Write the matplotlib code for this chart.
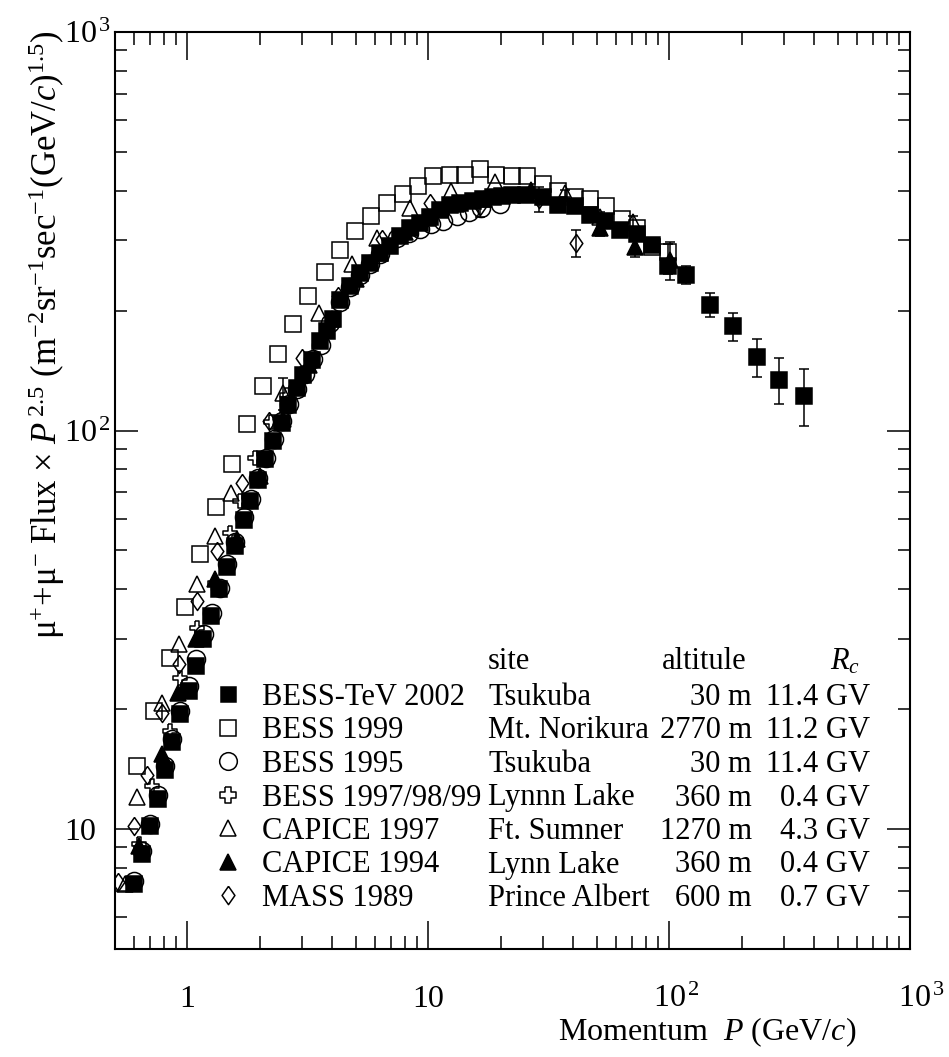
import numpy as np
import matplotlib
matplotlib.use("Agg")
import matplotlib.pyplot as plt
from matplotlib.path import Path
from matplotlib.ticker import LogLocator, NullFormatter
from matplotlib.transforms import ScaledTranslation

plt.rcParams['font.family'] = ['Liberation Serif', 'DejaVu Serif']
plt.rcParams['mathtext.fontset'] = 'custom'
plt.rcParams['mathtext.rm'] = 'Liberation Serif'
plt.rcParams['mathtext.it'] = 'Liberation Serif:italic'
plt.rcParams['mathtext.bf'] = 'Liberation Serif:bold'

# ---------------- data ----------------
# BESS-TeV 2002 (filled squares)
tev_p = [0.597, 0.646, 0.696, 0.751, 0.808, 0.864, 0.933, 1.01, 1.087, 1.165,
         1.254, 1.357, 1.457, 1.58, 1.71, 1.82, 1.97, 2.10, 2.27, 2.46,
         2.62, 2.84, 3.03, 3.28, 3.55, 3.78, 4.03, 4.30, 4.73, 5.21,
         5.73, 6.30, 6.93, 7.63, 8.4, 9.24, 10.16, 11.2, 12.3, 13.6,
         15.3, 16.9, 18.6, 20.3, 22.2, 25.5, 30.0, 34.6, 40.6, 46.9,
         54.1, 62.4, 73.2, 84.5, 99.1, 118, 147.5, 184.4, 230.5, 286, 362]
tev_f = [7.28, 8.66, 10.2, 11.9, 14.1, 16.5, 19.4, 22.2, 25.6, 29.9,
         34.3, 40.0, 45.4, 51.3, 59.8, 66.5, 75.3, 84.6, 94.0, 104.5,
         116, 128, 138, 150.6, 167.4, 178, 190, 213, 230, 248,
         263, 279, 290, 307, 322, 331, 344, 358, 368, 372,
         377, 381, 385, 387, 389, 389, 386, 368, 365, 348,
         335, 319, 311, 292, 258, 246, 207, 182.5, 153, 134.2, 122.4]
tev_err = [0, 0, 0, 0, 0, 0, 0, 0, 0, 0,
           0, 0, 0, 0, 0, 0, 0, 0, 0, 0,
           0, 0, 0, 0, 0, 0, 0, 0, 0, 0,
           0, 0, 0, 0, 0, 0, 0, 0, 0, 0,
           0, 0, 0, 0, 0, 0, 0, 0, 0, 0,
           5, 6, 7, 9, 11, 13, 14, 15, 16.5, 17.5, 20]

# BESS 1999 (open squares)
b99_p = [0.62, 0.723, 0.842, 0.975, 1.129, 1.31, 1.53, 1.764, 2.05, 2.37,
         2.75, 3.18, 3.73, 4.3, 4.96, 5.78, 6.72, 7.83, 9.09, 10.5,
         12.3, 14.2, 16.4, 19.1, 22.2, 25.8, 30.0, 34.6, 40.6, 46.9,
         54.5, 63.5, 73.2, 84.5, 99]
b99_f = [14.4, 19.8, 26.9, 36.1, 48.9, 64.2, 82.2, 104, 129, 155.6,
         185.4, 217, 250.6, 284, 316, 346, 372, 393, 411, 434,
         438, 438, 453, 438, 436, 434, 416, 398, 386, 380,
         366, 339, 322, 289, 281]
b99_err = [0, 0, 0, 0, 0, 0, 0, 0, 0, 0,
           0, 0, 0, 0, 0, 0, 0, 0, 0, 0,
           0, 0, 0, 0, 0, 0, 0, 0, 0, 0,
           0, 0, 0, 8, 13]

# BESS 1995 (open circles)
b95_p = [0.597, 0.646, 0.696, 0.751, 0.808, 0.864, 0.933, 1.013, 1.087, 1.17,
         1.26, 1.36, 1.46, 1.58, 1.71, 1.83, 1.97, 2.12, 2.29, 2.46,
         2.65, 2.86, 3.09, 3.33, 3.58, 3.9, 4.3, 4.73, 5.2, 5.7,
         6.3, 7.4, 8.3, 9.2, 10.3, 11.5, 13.1, 14.7, 16.6, 19.8]
b95_f = [7.42, 8.82, 10.3, 12.2, 14.4, 16.8, 19.8, 22.9, 26.7, 30.8,
         34.9, 40.3, 46.3, 52.5, 60.5, 67.5, 76, 85.5, 95, 105.5,
         116.5, 127, 139, 151, 164, 186, 210, 229, 246, 261,
         277, 304, 313, 321, 329, 336, 346, 354, 362, 370]

# BESS 1997/98/99 (open crosses)
b97_p = [0.626, 0.712, 0.842, 0.932, 1.10, 1.30, 1.50, 1.65, 1.91, 2.22, 2.58]
b97_f = [9.17, 12.8, 17.6, 24.0, 32.0, 41.5, 55.4, 66.5, 85.4, 105, 123]

# CAPICE 1997 (open triangles)
c97_p = [0.551, 0.62, 0.783, 0.924, 1.10, 1.30, 1.51, 2.49, 3.5, 4.8,
         6.15, 8.37, 12.4, 18.9, 36.9, 51.5, 71]
c97_f = [7.28, 12.0, 20.7, 29.1, 41.1, 54.4, 69.8, 124, 197, 261,
         304, 361, 398, 421, 394, 344, 334]
c97_err = [0, 0, 0, 0, 0, 0, 0, 11.5, 0, 0,
           0, 0, 0, 0, 8, 9, 12]

# CAPICE 1994 (filled triangles)
c94_p = [0.626, 0.783, 0.917, 1.087, 1.30, 1.6, 2.0, 2.5, 3.2, 4.0,
         5.0, 6.3, 8.0, 10.0, 13.0, 17.0, 26.8, 51.5, 72, 101]
c94_f = [9.08, 15.4, 22.0, 29.9, 42.5, 53.5, 77, 107, 146, 190,
         240, 279, 314, 342, 370, 382, 402, 322, 288, 268]
c94_err = [0, 0, 0, 0, 0, 0, 0, 0, 0, 0,
           0, 0, 0, 0, 0, 0, 0, 15, 16, 29]

# MASS 1989 (open diamonds)
mass_p = [0.513, 0.60, 0.678, 0.783, 0.924, 1.10, 1.33, 1.69, 2.17, 2.98,
          4.23, 6.4, 10.2, 16.4, 28.9, 40.9]
mass_f = [7.38, 10.2, 13.7, 19.6, 25.9, 37.3, 49.8, 73.9, 105.5, 152,
          218, 303, 372, 366, 381, 296]
mass_err = [0, 0, 0, 0, 0, 0, 0, 0, 0, 0,
            0, 0, 0, 22, 27, 23]

# legend / table text
exp_labels = ['BESS-TeV 2002', 'BESS 1999', 'BESS 1995', 'BESS 1997/98/99',
              'CAPICE 1997', 'CAPICE 1994', 'MASS 1989']
sites = ['Tsukuba', 'Mt. Norikura', 'Tsukuba', 'Lynnn Lake',
         'Ft. Sumner', 'Lynn Lake', 'Prince Albert']
altitudes = ['30 m', '2770 m', '30 m', '360 m', '1270 m', '360 m', '600 m']
cutoffs = ['11.4 GV', '11.2 GV', '11.4 GV', '0.4 GV', '4.3 GV', '0.4 GV', '0.7 GV']

x_ticks = [1, 10, 100, 1000]
x_tick_labels = ['1', '10', r'$10^{\,2}$', r'$10^{\,3}$']
y_ticks = [10, 100, 1000]
y_tick_labels = ['10', r'$10^{\,2}$', r'$10^{\,3}$']

# ---------------- markers ----------------
cross_marker = Path([(-0.33, 1), (0.33, 1), (0.33, 0.33), (1, 0.33), (1, -0.33),
                     (0.33, -0.33), (0.33, -1), (-0.33, -1), (-0.33, -0.33),
                     (-1, -0.33), (-1, 0.33), (-0.33, 0.33), (-0.33, 1)])
diamond_marker = Path([(0, 1), (0.7, 0), (0, -1), (-0.7, 0), (0, 1)])

W, H = 949, 1057
fig = plt.figure(figsize=(W / 100, H / 100), dpi=100)
AX_L, AX_R, AX_T, AX_B = 115, 910, 32, 949
ax = fig.add_axes([AX_L / W, 1 - AX_B / H, (AX_R - AX_L) / W, (AX_B - AX_T) / H])
ax.set_xscale('log')
ax.set_yscale('log')
ax.set_xlim(0.5, 1000)
ax.set_ylim(5, 1000)

LW = 1.1


def draw(p, f, err, marker, ms, filled, z):
    p = np.asarray(p, float)
    f = np.asarray(f, float)
    if err is not None:
        e = np.asarray(err, float)
        m = e > 0
        if m.any():
            ax.errorbar(p[m], f[m], yerr=e[m], fmt='none', ecolor='k',
                        elinewidth=LW, capsize=3.8, capthick=LW, zorder=z)
    ax.plot(p, f, ls='none', marker=marker, ms=ms,
            mfc='k' if filled else 'none', mec='k', mew=LW, zorder=z + 0.1)


series = [
    (b99_p, b99_f, b99_err, 's', 12.0, False, 2),
    (c97_p, c97_f, c97_err, '^', 11.0, False, 3),
    (mass_p, mass_f, mass_err, diamond_marker, 13.0, False, 4),
    (b97_p, b97_f, None, cross_marker, 10.0, False, 5),
    (b95_p, b95_f, None, 'o', 13.0, False, 6),
    (c94_p, c94_f, c94_err, '^', 11.0, True, 7),
    (tev_p, tev_f, tev_err, 's', 12.2, True, 8),
]
for s in series:
    draw(*s)

# ---------------- axes styling ----------------
for sp in ax.spines.values():
    sp.set_linewidth(1.5)

ax.set_xticks(x_ticks)
ax.set_xticklabels(x_tick_labels)
ax.set_yticks(y_ticks)
ax.set_yticklabels(y_tick_labels)
ax.xaxis.set_minor_locator(LogLocator(base=10, subs=np.arange(2, 10)))
ax.yaxis.set_minor_locator(LogLocator(base=10, subs=np.arange(2, 10)))
ax.xaxis.set_minor_formatter(NullFormatter())
ax.yaxis.set_minor_formatter(NullFormatter())

ax.tick_params(which='both', direction='in', top=True, right=True, color='k')
ax.tick_params(axis='x', which='major', length=20, width=LW, pad=42, labelsize=23)
ax.tick_params(axis='x', which='minor', length=9.4, width=LW)
ax.tick_params(axis='y', which='major', length=16.5, width=LW, pad=36.5, labelsize=23)
ax.tick_params(axis='y', which='minor', length=8.6, width=LW)

x_shift_px = [0, 0, 7, 12]
for i, t in enumerate(ax.xaxis.get_major_ticks()):
    t.label1.set_verticalalignment('baseline')
    if x_shift_px[i]:
        t.label1.set_transform(t.label1.get_transform() +
                               ScaledTranslation(x_shift_px[i] / 100, 0, fig.dpi_scale_trans))
for t in ax.yaxis.get_major_ticks():
    t.label1.set_horizontalalignment('left')

# axis titles
fig.text(57 / W, 1 - 335 / H,
         'μ$^{+}$+μ$^{-}$ Flux × $P^{\\,2.5}$ (m$^{-2}$sr$^{-1}$sec$^{-1}$(GeV/$c$)$^{1.5}$)',
         rotation=90, rotation_mode='anchor', ha='center', va='baseline', fontsize=25)
fig.text(856 / W, 1 - 1040 / H, 'Momentum  $P$ (GeV/$c$)',
         ha='right', va='baseline', fontsize=23)

# ---------------- legend / table ----------------
FS = 22
hdr_y = 1 - 669 / H
fig.text(488 / W, hdr_y, 'site', ha='left', va='baseline', fontsize=FS)
fig.text(662 / W, hdr_y, 'altitule', ha='left', va='baseline', fontsize=FS)
fig.text(830 / W, hdr_y, '$R_c$', ha='left', va='baseline', fontsize=FS)

leg_style = [('s', 10.8, True), ('s', 11.3, False), ('o', 12.7, False),
             (cross_marker, 12.0, False), ('^', 12.0, False), ('^', 12.0, True),
             (diamond_marker, 13.2, False)]
for i in range(len(exp_labels)):
    yb = 705 + 33.5 * i
    mk, ms, filled = leg_style[i]
    ax.plot([228 / W], [1 - (yb - 11) / H], transform=fig.transFigure, clip_on=False,
            ls='none', marker=mk, ms=ms, mfc='k' if filled else 'none',
            mec='k', mew=LW, zorder=10)
    fig.text(262 / W, 1 - yb / H, exp_labels[i], ha='left', va='baseline', fontsize=FS)
    fig.text(488 / W, 1 - yb / H, sites[i], ha='left', va='baseline', fontsize=FS)
    fig.text(752 / W, 1 - yb / H, altitudes[i], ha='right', va='baseline', fontsize=FS)
    fig.text(870 / W, 1 - yb / H, cutoffs[i], ha='right', va='baseline', fontsize=FS)

fig.savefig('out.png', dpi=100)
